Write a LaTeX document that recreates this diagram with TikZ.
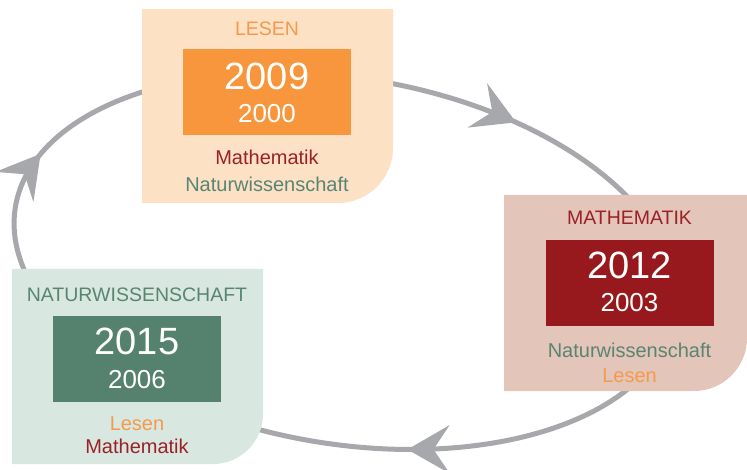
\documentclass[tikz,border=0pt]{standalone}
\usepackage{fontspec}
\setmainfont{Liberation Sans}
\usetikzlibrary{arrows.meta}
\definecolor{lesbg}{HTML}{FDE1C5}
\definecolor{lesdk}{HTML}{F7963C}
\definecolor{matbg}{HTML}{E3C5B9}
\definecolor{matdk}{HTML}{97191E}
\definecolor{natbg}{HTML}{D8E8E0}
\definecolor{natdk}{HTML}{55816F}
\definecolor{lestx}{HTML}{F59A4C}
\definecolor{mattx}{HTML}{9A2127}
\definecolor{nattx}{HTML}{5A8472}
\definecolor{cyc}{HTML}{A7A8AB}
\begin{document}
\begin{tikzpicture}[x=1pt,y=-1pt,
  cycline/.style={draw=cyc, line width=5pt},
  cyctip/.style={cycline, -{Stealth[length=42pt,width=48pt,inset=16pt]}},
  yearbox/.style={minimum width=168pt, minimum height=86pt, inner sep=0pt},
  head/.style={anchor=base, font=\fontsize{19.5}{23}\selectfont},
  bigyear/.style={anchor=base, text=white, font=\fontsize{38}{44}\selectfont},
  smallyear/.style={anchor=base, text=white, font=\fontsize{26}{30}\selectfont},
  subj/.style={anchor=base, font=\fontsize{20}{24}\selectfont}]
\useasboundingbox (0,0) rectangle (747,470);
% cycle ellipse
\draw[cycline] plot[domain=0:360, samples=200, smooth cycle]
  ({345+334*cos(\x)*0.9869-183*sin(\x)*0.1616},{261+334*cos(\x)*0.1616+183*sin(\x)*0.9869});
\coordinate (t1a) at ({345+334*cos(294)*0.9869-183*sin(294)*0.1616},{261+334*cos(294)*0.1616+183*sin(294)*0.9869});
\coordinate (t1b) at ({345+334*cos(296)*0.9869-183*sin(296)*0.1616},{261+334*cos(296)*0.1616+183*sin(296)*0.9869});
\coordinate (t2a) at ({345+334*cos(72)*0.9869-183*sin(72)*0.1616},{261+334*cos(72)*0.1616+183*sin(72)*0.9869});
\coordinate (t2b) at ({345+334*cos(74)*0.9869-183*sin(74)*0.1616},{261+334*cos(74)*0.1616+183*sin(74)*0.9869});
\coordinate (t3a) at ({345+334*cos(196)*0.9869-183*sin(196)*0.1616},{261+334*cos(196)*0.1616+183*sin(196)*0.9869});
\coordinate (t3b) at ({345+334*cos(198)*0.9869-183*sin(198)*0.1616},{261+334*cos(198)*0.1616+183*sin(198)*0.9869});
\draw[cyctip] (t1a) -- (t1b);
\draw[cyctip] (t2a) -- (t2b);
\draw[cyctip] (t3a) -- (t3b);
% LESEN panel
\fill[lesbg] (142,9) -- (393,9) -- (393,148) arc[start angle=0, end angle=90, radius=55] -- (142,203) -- cycle;
\node[yearbox, fill=lesdk] (lesbox) at (267,92.5) {};
\node[head, text=lestx] (lesH) at (267,36) {LESEN};
\node[bigyear] (lesY1) at (267,90) {2009};
\node[smallyear] (lesY2) at (267,123) {2000};
\node[subj, text=mattx] (lesS1) at (267,165) {Mathematik};
\node[subj, text=nattx] (lesS2) at (267,192) {Naturwissenschaft};
% MATHEMATIK panel
\fill[matbg] (504,195) -- (747,195) -- (747,338) arc[start angle=0, end angle=90, radius=53] -- (504,391) -- cycle;
\node[yearbox, fill=matdk] (matbox) at (629.5,283) {};
\node[head, text=mattx] (matH) at (629.5,225) {MATHEMATIK};
\node[bigyear] (matY1) at (629.5,279) {2012};
\node[smallyear] (matY2) at (629.5,312) {2003};
\node[subj, text=nattx] (matS1) at (629.5,357) {Naturwissenschaft};
\node[subj, text=lestx] (matS2) at (629.5,382) {Lesen};
% NATURWISSENSCHAFT panel
\fill[natbg] (12,269) -- (263,269) -- (263,414) arc[start angle=0, end angle=90, radius=50] -- (12,464) -- cycle;
\node[yearbox, fill=natdk] (natbox) at (137,359) {};
\node[head, text=nattx] (natH) at (137,302) {NATURWISSENSCHAFT};
\node[bigyear] (natY1) at (137,355) {2015};
\node[smallyear] (natY2) at (137,388) {2006};
\node[subj, text=lestx] (natS1) at (137,430) {Lesen};
\node[subj, text=mattx] (natS2) at (137,453) {Mathematik};
\end{tikzpicture}
\end{document}
